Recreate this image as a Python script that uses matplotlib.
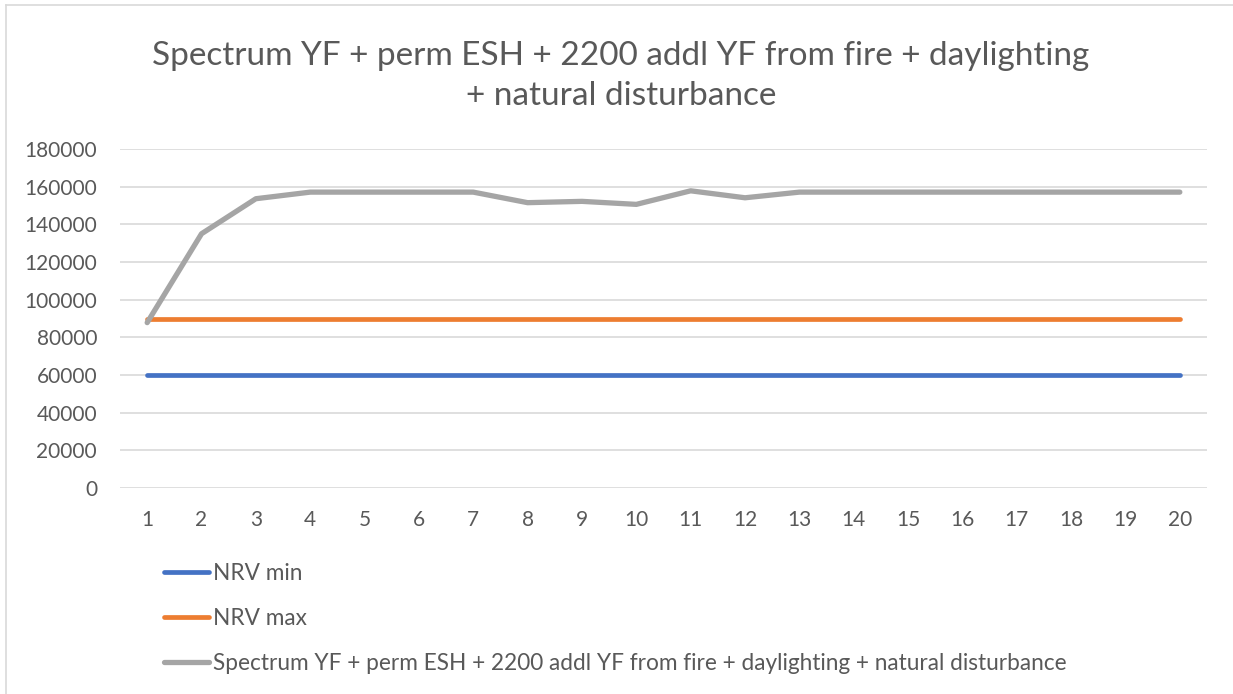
import matplotlib.pyplot as plt
from matplotlib.lines import Line2D

years = list(range(1, 21))
nrv_min = [60000] * 20
nrv_max = [90000] * 20
spectrum = [87800, 135000, 153600, 157100, 157100, 157100, 157100, 151500, 152200, 150600,
            157800, 154100, 157100, 157100, 157100, 157100, 157100, 157100, 157100, 157100]
labels = ['NRV min', 'NRV max',
          'Spectrum YF + perm ESH + 2200 addl YF from fire + daylighting + natural disturbance']
title = 'Spectrum YF + perm ESH + 2200 addl YF from fire + daylighting\n+ natural disturbance'

plt.rcParams['font.family'] = ['Lato', 'DejaVu Sans']
txt = '#595959'

W, H = 1233, 694
fig = plt.figure(figsize=(W / 100, H / 100), dpi=100)
ax = fig.add_axes([120 / W, 1 - 488 / H, (1207 - 120) / W, (488 - 149) / H])

ax.plot(years, nrv_min, color='#4472C4', lw=3.4, solid_capstyle='round', label=labels[0], zorder=3)
ax.plot(years, nrv_max, color='#ED7D31', lw=3.4, solid_capstyle='round', label=labels[1], zorder=3)
ax.plot(years, spectrum, color='#A5A5A5', lw=3.8, solid_capstyle='round', label=labels[2], zorder=3)

ax.set_xlim(0.5, 20.5)
ax.set_ylim(0, 180000)
ax.set_yticks(range(0, 180001, 20000))
ax.set_xticks(years)
ax.grid(axis='y', color='#D9D9D9', lw=1.2, zorder=0)
for s in ax.spines.values():
    s.set_visible(False)
ax.tick_params(length=0, labelsize=15, labelcolor=txt)
ax.tick_params(axis='y', pad=16.5)
ax.tick_params(axis='x', pad=16)

fig.text(621 / W, 1 - 76 / H, title, ha='center', va='center', fontsize=24,
         color=txt, linespacing=1.45)

fig.legend(loc='upper left', bbox_to_anchor=(155 / W, 1 - 554 / H), frameon=False,
           fontsize=16.3, labelcolor=txt, handlelength=2.0, handletextpad=0.15,
           labelspacing=1.05, borderaxespad=0)

# chart area border (left and top edges visible)
fig.add_artist(Line2D([6 / W, 6 / W], [0, 1 - 5 / H], color='#D9D9D9', lw=1.2))
fig.add_artist(Line2D([6 / W, 1], [1 - 5 / H, 1 - 5 / H], color='#D9D9D9', lw=1.2))

fig.savefig('out.png', dpi=100)
